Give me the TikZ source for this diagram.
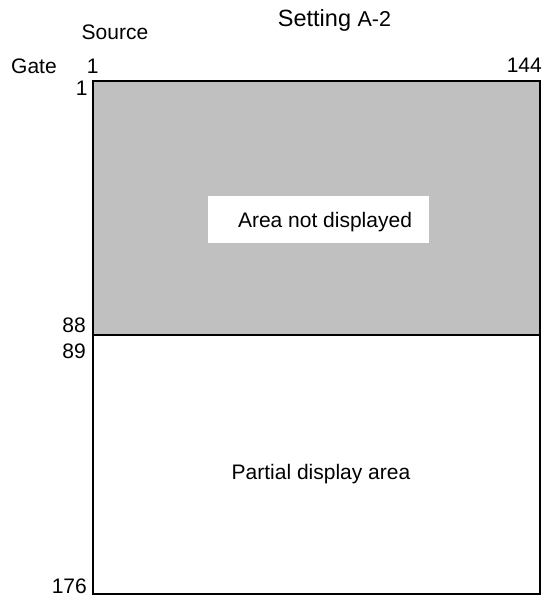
\documentclass[tikz,border=0pt]{standalone}
\usepackage{fontspec}
\setmainfont{Liberation Sans}
\definecolor{areagray}{HTML}{C0C0C0}
\begin{document}
\begin{tikzpicture}[x=1pt,y=-1pt,
  lbl/.style={inner sep=0pt, font=\fontsize{21}{23}\selectfont},
  num/.style={inner sep=0pt, font=\fontsize{21}{23}\selectfont},
  big/.style={inner sep=0pt, font=\fontsize{21}{23}\selectfont}]
\useasboundingbox (0,0) rectangle (553,597);
\fill[areagray] (93,81) rectangle (540,335);
\fill[white] (208,196) rectangle (429,243);
\draw[line width=1.4pt] (93,335) -- (540,335);
\draw[line width=2pt] (93,81) rectangle (540,594);
\node[lbl, anchor=base] (title) at (334.5,26) {\fontsize{23.5}{25}\selectfont Setting {\fontsize{21.5}{23}\selectfont A-2}};
\node[lbl, anchor=base] (source) at (115,39) {Source};
\node[lbl, anchor=base west] (gate) at (11,73) {Gate};
\node[num, anchor=base west] (s1) at (86.7,73) {1};
\node[num, anchor=base east] (s144) at (542,72.5) {144};
\node[num, anchor=base east] (g1) at (87.8,95) {1};
\node[num, anchor=base east] (g88) at (86,332) {88};
\node[num, anchor=base east] (g89) at (86,358) {89};
\node[num, anchor=base east] (g176) at (87,593) {176};
\node[big, anchor=base] (hidden) at (325,227) {Area not displayed};
\node[big, anchor=base] (partial) at (321,479) {Partial display area};
\end{tikzpicture}
\end{document}
